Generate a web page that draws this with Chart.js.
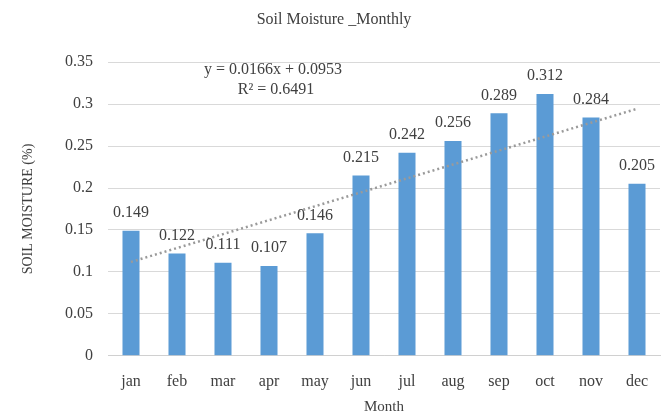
<!DOCTYPE html>
<html>
<head>
<meta charset="utf-8">
<script src="https://cdn.jsdelivr.net/npm/chart.js@4/dist/chart.umd.min.js"></script>
<style>
  html, body { margin: 0; padding: 0; background: #fff; }
  #wrap { width: 668px; height: 416px; }
</style>
</head>
<body>
<div id="wrap"><canvas id="grafico" width="668" height="416"></canvas></div>
<script>
const meses = ["jan", "feb", "mar", "apr", "may", "jun", "jul", "aug", "sep", "oct", "nov", "dec"];
const humedad = [0.149, 0.122, 0.111, 0.107, 0.146, 0.215, 0.242, 0.256, 0.289, 0.312, 0.284, 0.205];
const ticksY = [0, 0.05, 0.1, 0.15, 0.2, 0.25, 0.3, 0.35];

const FUENTE = "'Liberation Serif', 'Times New Roman', serif";

// Linear trend (x = 1..12), least squares over the monthly values
function tendencia(valores) {
  const n = valores.length;
  const xs = valores.map((_, i) => i + 1);
  const mx = xs.reduce((a, b) => a + b, 0) / n;
  const my = valores.reduce((a, b) => a + b, 0) / n;
  let num = 0, den = 0;
  xs.forEach((x, i) => { num += (x - mx) * (valores[i] - my); den += (x - mx) * (x - mx); });
  const m = num / den;
  const b = my - m * mx;
  return { m, b, puntos: xs.map(x => m * x + b) };
}

const trend = tendencia(humedad);

// value labels above bars + regression equation
const etiquetas = {
  id: 'etiquetas',
  afterDatasetsDraw(chart) {
    const ctx = chart.ctx;
    const meta = chart.getDatasetMeta(0);
    ctx.save();
    ctx.font = "16px " + FUENTE;
    ctx.fillStyle = "#404040";
    ctx.textAlign = "center";
    ctx.textBaseline = "bottom";
    meta.data.forEach((bar, i) => {
      ctx.fillText(String(humedad[i]), bar.x, bar.y - 10);
    });

    const x = chart.scales.x.getPixelForValue(3);
    const y = chart.scales.y.getPixelForValue(0.35);
    ctx.textBaseline = "top";
    ctx.fillText("y = " + trend.m.toFixed(4) + "x + " + trend.b.toFixed(4), x + 4, y + 0);
    ctx.fillText("R² = 0.6491", x + 7, y + 20);
    ctx.restore();
  }
};

const ctx = document.getElementById('grafico').getContext('2d');

new Chart(ctx, {
  data: {
    labels: meses,
    datasets: [
      {
        type: 'bar',
        label: 'Soil moisture',
        data: humedad,
        backgroundColor: '#5b9bd5',
        barPercentage: 0.37,
        categoryPercentage: 1,
        order: 2
      },
      {
        type: 'line',
        label: 'Linear',
        data: trend.puntos,
        borderColor: '#9a9a9a',
        borderWidth: 2.5,
        borderDash: [2, 3],
        pointRadius: 0,
        fill: false,
        order: 1
      }
    ]
  },
  options: {
    responsive: false,
    animation: false,
    layout: { padding: { top: 4, right: 8, bottom: 0, left: 8 } },
    plugins: {
      legend: { display: false },
      tooltip: { enabled: false },
      title: {
        display: true,
        text: 'Soil Moisture _Monthly',
        color: '#404040',
        font: { family: FUENTE, size: 16, weight: 'normal' },
        padding: { top: 6, bottom: 33 }
      }
    },
    scales: {
      x: {
        grid: { display: false, drawTicks: false },
        border: { color: '#d0d0d0' },
        ticks: {
          color: '#404040',
          font: { family: FUENTE, size: 16 },
          padding: 16
        },
        title: {
          display: true,
          text: 'Month',
          color: '#404040',
          font: { family: FUENTE, size: 15 },
          padding: { top: -9, bottom: 0 }
        }
      },
      y: {
        min: 0,
        max: 0.35,
        afterBuildTicks(scale) {
          scale.ticks = ticksY.map(v => ({ value: v }));
        },
        afterFit(scale) { scale.width = 100; },
        grid: { color: '#d9d9d9', drawTicks: false },
        border: { display: false },
        ticks: {
          color: '#404040',
          font: { family: FUENTE, size: 16 },
          padding: 15,
          callback: v => String(v)
        },
        title: {
          display: true,
          text: 'SOIL MOISTURE (%)',
          color: '#404040',
          font: { family: FUENTE, size: 14 },
          padding: { top: 12, bottom: 0 }
        }
      }
    }
  },
  plugins: [etiquetas]
});
</script>
</body>
</html>
